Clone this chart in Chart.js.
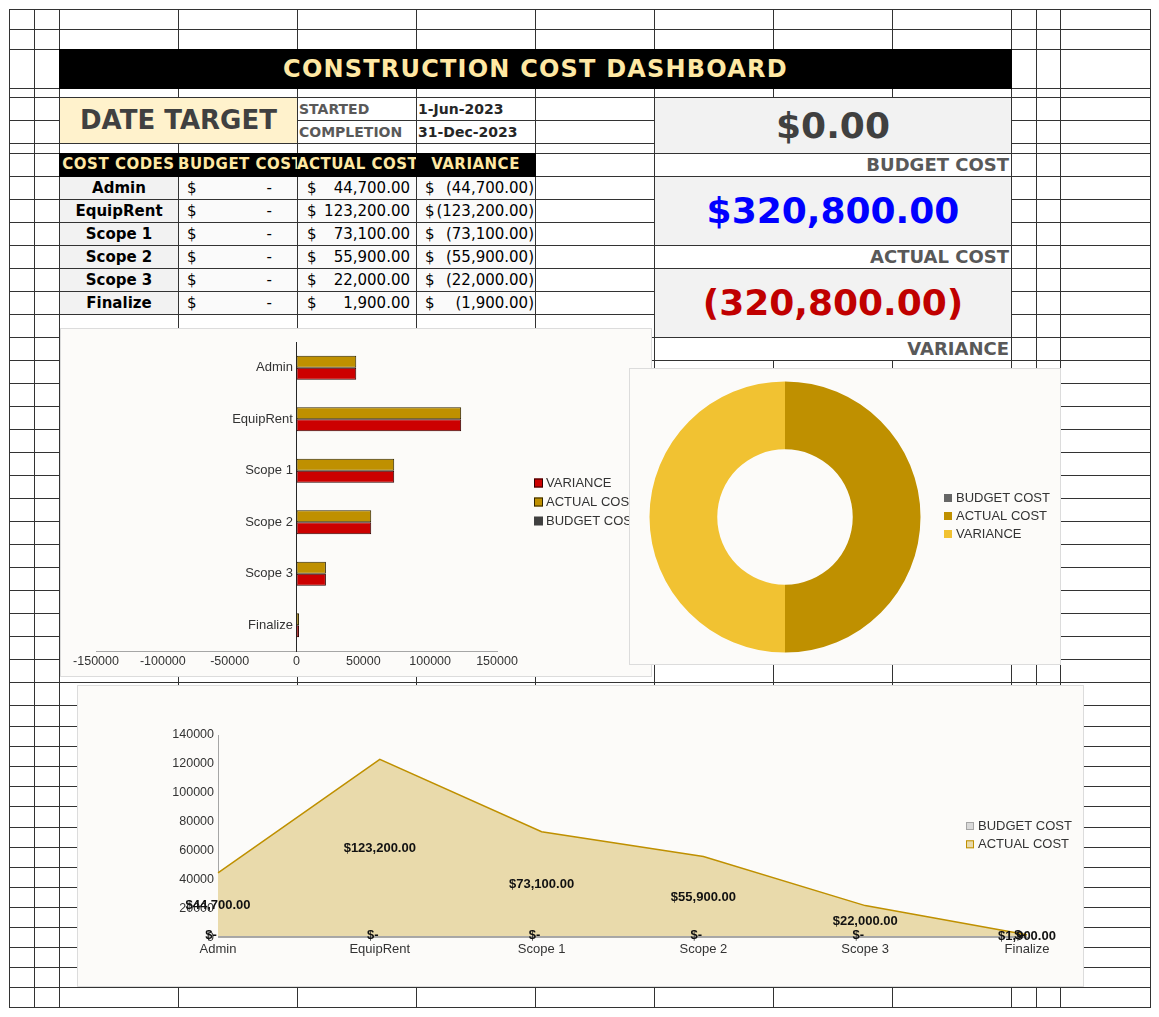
<!DOCTYPE html>
<html>
<head>
<meta charset="utf-8">
<title>Construction Cost Dashboard</title>
<script src="https://cdn.jsdelivr.net/npm/chart.js@4.4.1/dist/chart.umd.min.js"></script>
<style>
  body { margin: 0; background: #fff; }
  #sheet { position: relative; width: 1159px; height: 1017px; overflow: hidden; font-family: 'DejaVu Sans', sans-serif; }
  .gl { position: absolute; background: #333; }
  .c { position: absolute; box-sizing: border-box; overflow: hidden; white-space: nowrap; }
  .box { position: absolute; box-sizing: border-box; background: #fcfbf9; border: 1px solid #dcdcdc; }
  .box canvas { position: absolute; left: -1px; top: -1px; }
  .hdr { color: #ffe8a3; font-weight: bold; font-size: 15px; letter-spacing: 0.5px; text-align: center; line-height: 23px; }
  .code { background: #f2f2f2; font-weight: bold; font-size: 15px; text-align: center; line-height: 22px; color: #000; }
  .num { background: #fafafa; font-size: 15px; line-height: 22px; color: #000; }
  .num span { position: absolute; top: 0; }
  .big { font-weight: bold; font-size: 36px; text-align: center; background: #f2f2f2; border-bottom: 1px solid #333; }
  .lbl { font-weight: bold; font-size: 18px; color: #595959; text-align: right; padding-right: 2px; line-height: 21px; border-bottom: 1px solid #333; background: #fff; }
</style>
</head>
<body>
<div id="sheet">
  <div id="grid"></div>

  <div class="c" style="left:59px;top:49px;width:953px;height:40px;background:#000;color:#ffe8a3;font-weight:bold;font-size:24px;letter-spacing:1.2px;text-align:center;line-height:40px;">CONSTRUCTION COST DASHBOARD</div>

  <div class="c" style="left:60px;top:98px;width:237px;height:45px;background:#fff2cc;color:#404040;font-weight:bold;font-size:26px;text-align:center;line-height:45px;">DATE TARGET</div>
  <div class="c" style="left:298px;top:98px;width:118px;height:22px;line-height:22px;padding-left:1px;font-size:14px;font-weight:bold;color:#595959;">STARTED</div>
  <div class="c" style="left:298px;top:121px;width:118px;height:22px;line-height:22px;padding-left:1px;font-size:14px;font-weight:bold;color:#595959;">COMPLETION</div>
  <div class="c" style="left:417px;top:98px;width:118px;height:22px;line-height:22px;padding-left:1px;font-size:14px;font-weight:bold;color:#262626;">1-Jun-2023</div>
  <div class="c" style="left:417px;top:121px;width:118px;height:22px;line-height:22px;padding-left:1px;font-size:14px;font-weight:bold;color:#262626;">31-Dec-2023</div>

  <div class="c" style="left:59px;top:153px;width:477px;height:24px;background:#000;"></div>
  <div id="table"></div>

  <div class="c" style="left:654px;top:97px;width:358px;height:264px;background:#fff;border:1px solid #333;">
    <div class="c big" id="totBudget" style="left:0;top:0;width:356px;height:56px;line-height:56px;color:#404040;"></div>
    <div class="c lbl" style="left:0;top:56px;width:356px;height:23px;">BUDGET COST</div>
    <div class="c big" id="totActual" style="left:0;top:79px;width:356px;height:69px;line-height:68px;color:#0000ff;"></div>
    <div class="c lbl" style="left:0;top:148px;width:356px;height:23px;">ACTUAL COST</div>
    <div class="c big" id="totVariance" style="left:0;top:171px;width:356px;height:69px;line-height:68px;color:#c00000;"></div>
    <div class="c lbl" style="left:0;top:240px;width:356px;height:22px;border-bottom:none;">VARIANCE</div>
  </div>

  <div class="box" style="left:60px;top:328px;width:592px;height:349px;z-index:2;">
    <canvas id="barChart" width="592" height="349"></canvas>
  </div>
  <div class="box" style="left:629px;top:368px;width:432px;height:297px;z-index:3;">
    <canvas id="pieChart" width="432" height="297"></canvas>
  </div>
  <div class="box" style="left:77px;top:685px;width:1007px;height:302px;z-index:2;">
    <canvas id="areaChart" width="1007" height="302"></canvas>
  </div>
</div>

<script>
// Data
const costCodes = ['Admin', 'EquipRent', 'Scope 1', 'Scope 2', 'Scope 3', 'Finalize'];
const budgetCost = [0, 0, 0, 0, 0, 0];
const actualCost = [44700, 123200, 73100, 55900, 22000, 1900];
const variance = [-44700, -123200, -73100, -55900, -22000, -1900];
const summaryLabels = ['BUDGET COST', 'ACTUAL COST', 'VARIANCE'];
const summaryShares = [0, 320800, 320800];
const barTickValues = [-150000, -100000, -50000, 0, 50000, 100000, 150000];
const areaTickValues = [0, 20000, 40000, 60000, 80000, 100000, 120000, 140000];

// Sheet grid positions
const gridCols = [9, 34, 59, 178, 297, 416, 535, 654, 773, 892, 1011, 1036, 1060, 1150];
const gridRows = [9, 29, 49, 88, 97, 120, 143, 153, 176, 199, 222, 245, 268, 291, 314, 337, 360,
  383, 406, 429, 452, 475, 498, 521, 544, 567, 590, 613, 636, 659, 682, 705,
  726, 746, 766, 786, 806, 827, 847, 867, 887, 907, 927, 947, 967, 987, 1007];

const grid = document.getElementById('grid');
gridRows.forEach(y => {
  grid.insertAdjacentHTML('beforeend', `<div class="gl" style="left:9px;top:${y}px;width:1142px;height:1px"></div>`);
});
gridCols.forEach(x => {
  grid.insertAdjacentHTML('beforeend', `<div class="gl" style="left:${x}px;top:9px;width:1px;height:999px"></div>`);
});

const money = v => v.toLocaleString('en-US', { minimumFractionDigits: 2, maximumFractionDigits: 2 });
const acct = v => v === 0 ? '-' : (v < 0 ? '(' + money(-v) + ')' : money(v));

// Table
const table = document.getElementById('table');
const headers = ['COST CODES', 'BUDGET COST', 'ACTUAL COST', 'VARIANCE'];
headers.forEach((h, i) => {
  const x = gridCols[2 + i];
  table.insertAdjacentHTML('beforeend',
    `<div class="c hdr" style="left:${x}px;top:153px;width:${gridCols[3 + i] - x}px;height:23px">${h}</div>`);
});
const moneyCols = [[budgetCost, 8, 26], [actualCost, 9, 7], [variance, 8, 2]];
costCodes.forEach((code, i) => {
  const top = 177 + 23 * i;
  table.insertAdjacentHTML('beforeend',
    `<div class="c code" style="left:60px;top:${top}px;width:118px;height:22px">${code}</div>`);
  moneyCols.forEach(([vals, padL, padR], j) => {
    const x = gridCols[3 + j] + 1;
    table.insertAdjacentHTML('beforeend',
      `<div class="c num" style="left:${x}px;top:${top}px;width:118px;height:22px">` +
      `<span style="left:${padL}px">$</span><span style="right:${padR - 1}px">${acct(vals[i])}</span></div>`);
  });
});

const sum = a => a.reduce((s, v) => s + v, 0);
document.getElementById('totBudget').textContent = '$' + money(sum(budgetCost));
document.getElementById('totActual').textContent = '$' + money(sum(actualCost));
document.getElementById('totVariance').textContent = acct(sum(variance));

// Charts
Chart.defaults.font.family = "'Liberation Sans', Arial, sans-serif";
Chart.defaults.font.size = 13;
Chart.defaults.color = '#333';

// legend drawn at a fixed spot, items from the chart's own legend generator
const sideLegend = {
  id: 'sideLegend',
  afterDraw(chart, args, opts) {
    const items = chart.legend.options.labels.generateLabels(chart);
    if (opts.reverse) items.reverse();
    const ctx = chart.ctx;
    ctx.save();
    ctx.font = "13px 'Liberation Sans', Arial, sans-serif";
    ctx.textBaseline = 'middle';
    items.forEach((item, i) => {
      const y = opts.y + i * opts.gap;
      ctx.fillStyle = item.fillStyle;
      ctx.fillRect(opts.x, y - opts.box / 2, opts.box, opts.box);
      if (item.lineWidth > 0) {
        ctx.lineWidth = 1;
        ctx.strokeStyle = item.strokeStyle;
        ctx.strokeRect(opts.x + 0.5, y - opts.box / 2 + 0.5, opts.box - 1, opts.box - 1);
      }
      ctx.fillStyle = '#333';
      ctx.fillText(item.text, opts.textX, y);
    });
    ctx.restore();
  }
};

new Chart(document.getElementById('barChart'), {
  type: 'bar',
  data: {
    labels: costCodes,
    datasets: [
      { label: 'BUDGET COST', data: budgetCost, backgroundColor: '#404040', borderWidth: 0, grouped: false },
      { label: 'ACTUAL COST', data: actualCost, backgroundColor: '#bf9000', borderColor: '#2e2400', borderWidth: 1, borderSkipped: false },
      { label: 'VARIANCE', data: variance.map(Math.abs), backgroundColor: '#cc0000', borderColor: '#2e0000', borderWidth: 1, borderSkipped: false }
    ]
  },
  options: {
    indexAxis: 'y',
    responsive: false,
    animation: false,
    categoryPercentage: 0.462,
    barPercentage: 1,
    layout: { padding: { left: 36, right: 155, top: 14, bottom: 5 } },
    scales: {
      x: {
        min: barTickValues[0],
        max: barTickValues[barTickValues.length - 1],
        ticks: { stepSize: barTickValues[1] - barTickValues[0], padding: 3, font: { size: 12.5 }, callback: v => String(v) },
        grid: { display: false, drawTicks: false },
        border: { color: '#a6a6a6' }
      },
      y: {
        position: { x: 0 },
        ticks: { callback: (v, i) => costCodes[i] + ' ' },
        grid: { display: false, drawTicks: false },
        border: { color: '#262626' }
      }
    },
    plugins: {
      legend: { display: false },
      tooltip: { enabled: false },
      sideLegend: { x: 474, textX: 486, y: 155, gap: 19, box: 9, reverse: true }
    }
  },
  plugins: [sideLegend]
});

new Chart(document.getElementById('pieChart'), {
  type: 'doughnut',
  data: {
    labels: summaryLabels,
    datasets: [{ data: summaryShares, backgroundColor: ['#666666', '#bf9000', '#f1c232'], borderWidth: 0 }]
  },
  options: {
    responsive: false,
    animation: false,
    cutout: '50%',
    layout: { padding: { left: 20.5, right: 140.5, top: 13.5, bottom: 12.5 } },
    plugins: {
      legend: { display: false },
      tooltip: { enabled: false },
      sideLegend: { x: 315, textX: 327, y: 130, gap: 18, box: 8 }
    }
  },
  plugins: [sideLegend]
});

// value labels in the middle of the area, "$-" for the zero series
const areaValueLabels = {
  id: 'areaValueLabels',
  afterDatasetsDraw(chart) {
    const { ctx, scales: { y } } = chart;
    ctx.save();
    ctx.font = "bold 13px 'Liberation Sans', Arial, sans-serif";
    ctx.fillStyle = '#111';
    ctx.textAlign = 'center';
    ctx.textBaseline = 'middle';
    chart.data.datasets.forEach((ds, di) => {
      chart.getDatasetMeta(di).data.forEach((pt, i) => {
        const v = ds.data[i];
        if (v === 0) ctx.fillText('$-', pt.x - 7, y.getPixelForValue(0) - 2);
        else ctx.fillText('$' + money(v), pt.x, y.getPixelForValue(v / 2));
      });
    });
    ctx.restore();
  }
};

new Chart(document.getElementById('areaChart'), {
  type: 'line',
  data: {
    labels: costCodes,
    datasets: [
      { label: 'BUDGET COST', data: budgetCost, borderColor: '#a6a6a6', backgroundColor: '#d9d9d9', borderWidth: 3, fill: 'origin', pointRadius: 0 },
      { label: 'ACTUAL COST', data: actualCost, borderColor: '#bf9000', backgroundColor: '#e9daab', borderWidth: 1.5, fill: 'origin', pointRadius: 0, tension: 0 }
    ]
  },
  options: {
    responsive: false,
    animation: false,
    layout: { padding: { left: 91, right: 57, top: 50, bottom: 26 } },
    scales: {
      x: {
        offset: false,
        ticks: { padding: 4 },
        grid: { display: false, drawTicks: false },
        border: { color: '#a6a6a6' }
      },
      y: {
        min: areaTickValues[0],
        max: areaTickValues[areaTickValues.length - 1],
        ticks: { stepSize: areaTickValues[1] - areaTickValues[0], padding: 4, font: { size: 12.5 }, callback: v => String(v) },
        grid: { display: false, drawTicks: false },
        border: { color: '#a6a6a6' },
        afterFit: s => { s.width = 50; }
      }
    },
    plugins: {
      legend: { display: false },
      tooltip: { enabled: false },
      sideLegend: { x: 889, textX: 901, y: 141, gap: 18.3, box: 8 }
    }
  },
  plugins: [sideLegend, areaValueLabels]
});
</script>
</body>
</html>
